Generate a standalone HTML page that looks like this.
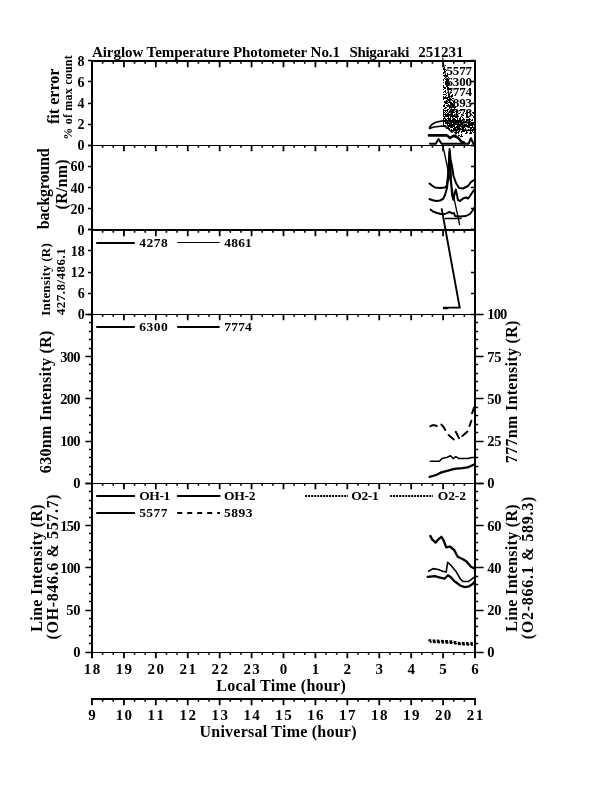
<!DOCTYPE html>
<html><head><meta charset="utf-8"><title>Airglow Temperature Photometer</title>
<style>html,body{margin:0;padding:0;background:#fff;}body{width:612px;height:792px;overflow:hidden;}svg{display:block;will-change:transform;}text{font-family:"Liberation Serif",serif;font-weight:bold;fill:#000;}.ax{stroke:#000;stroke-width:2;fill:none;stroke-linecap:butt;}.tk{stroke:#000;stroke-width:1.8;fill:none;}.tm{stroke:#000;stroke-width:1.6;fill:none;}.yk{stroke:#000;stroke-width:1.4;fill:none;}.d{stroke:#000;fill:none;stroke-linejoin:round;stroke-linecap:round;}</style></head><body>
<svg width="612" height="792" viewBox="0 0 612 792">
<rect x="0" y="0" width="612" height="792" fill="#fff"/>
<path class="ax" d="M92.0 60.0V658.0M475.0 60.0V658.0"/>
<path d="M91.0 61.0H476.0" stroke="#000" stroke-width="2" fill="none"/>
<path d="M91.0 145.5H476.0" stroke="#000" stroke-width="1" fill="none"/>
<path d="M91.0 230.0H476.0" stroke="#000" stroke-width="2" fill="none"/>
<path d="M91.0 314.5H476.0" stroke="#000" stroke-width="1" fill="none"/>
<path d="M91.0 483.5H476.0" stroke="#000" stroke-width="1" fill="none"/>
<path d="M91.0 652.5H476.0" stroke="#000" stroke-width="1" fill="none"/>
<path class="ax" d="M91.0 699.0H476.0"/>
<path class="tk" d="M92.00 62.0v5.2M123.92 62.0v5.2M155.83 62.0v5.2M187.75 62.0v5.2M219.67 62.0v5.2M251.58 62.0v5.2M283.50 62.0v5.2M315.42 62.0v5.2M347.33 62.0v5.2M379.25 62.0v5.2M411.17 62.0v5.2M443.08 62.0v5.2M475.00 62.0v5.2M92.00 146.0v5.2M123.92 146.0v5.2M155.83 146.0v5.2M187.75 146.0v5.2M219.67 146.0v5.2M251.58 146.0v5.2M283.50 146.0v5.2M315.42 146.0v5.2M347.33 146.0v5.2M379.25 146.0v5.2M411.17 146.0v5.2M443.08 146.0v5.2M475.00 146.0v5.2M92.00 231.0v5.2M123.92 231.0v5.2M155.83 231.0v5.2M187.75 231.0v5.2M219.67 231.0v5.2M251.58 231.0v5.2M283.50 231.0v5.2M315.42 231.0v5.2M347.33 231.0v5.2M379.25 231.0v5.2M411.17 231.0v5.2M443.08 231.0v5.2M475.00 231.0v5.2M92.00 315.0v5.2M123.92 315.0v5.2M155.83 315.0v5.2M187.75 315.0v5.2M219.67 315.0v5.2M251.58 315.0v5.2M283.50 315.0v5.2M315.42 315.0v5.2M347.33 315.0v5.2M379.25 315.0v5.2M411.17 315.0v5.2M443.08 315.0v5.2M475.00 315.0v5.2M92.00 484.0v5.2M123.92 484.0v5.2M155.83 484.0v5.2M187.75 484.0v5.2M219.67 484.0v5.2M251.58 484.0v5.2M283.50 484.0v5.2M315.42 484.0v5.2M347.33 484.0v5.2M379.25 484.0v5.2M411.17 484.0v5.2M443.08 484.0v5.2M475.00 484.0v5.2M92.00 653.0v5.2M123.92 653.0v5.2M155.83 653.0v5.2M187.75 653.0v5.2M219.67 653.0v5.2M251.58 653.0v5.2M283.50 653.0v5.2M315.42 653.0v5.2M347.33 653.0v5.2M379.25 653.0v5.2M411.17 653.0v5.2M443.08 653.0v5.2M475.00 653.0v5.2M92.00 700.0v5.2M123.92 700.0v5.2M155.83 700.0v5.2M187.75 700.0v5.2M219.67 700.0v5.2M251.58 700.0v5.2M283.50 700.0v5.2M315.42 700.0v5.2M347.33 700.0v5.2M379.25 700.0v5.2M411.17 700.0v5.2M443.08 700.0v5.2M475.00 700.0v5.2"/>
<path class="tm" d="M102.64 62.0v1.8M113.28 62.0v1.8M134.56 62.0v1.8M145.19 62.0v1.8M166.47 62.0v1.8M177.11 62.0v1.8M198.39 62.0v1.8M209.03 62.0v1.8M230.31 62.0v1.8M240.94 62.0v1.8M262.22 62.0v1.8M272.86 62.0v1.8M294.14 62.0v1.8M304.78 62.0v1.8M326.06 62.0v1.8M336.69 62.0v1.8M357.97 62.0v1.8M368.61 62.0v1.8M389.89 62.0v1.8M400.53 62.0v1.8M421.81 62.0v1.8M432.44 62.0v1.8M453.72 62.0v1.8M464.36 62.0v1.8M102.64 146.0v1.8M113.28 146.0v1.8M134.56 146.0v1.8M145.19 146.0v1.8M166.47 146.0v1.8M177.11 146.0v1.8M198.39 146.0v1.8M209.03 146.0v1.8M230.31 146.0v1.8M240.94 146.0v1.8M262.22 146.0v1.8M272.86 146.0v1.8M294.14 146.0v1.8M304.78 146.0v1.8M326.06 146.0v1.8M336.69 146.0v1.8M357.97 146.0v1.8M368.61 146.0v1.8M389.89 146.0v1.8M400.53 146.0v1.8M421.81 146.0v1.8M432.44 146.0v1.8M453.72 146.0v1.8M464.36 146.0v1.8M102.64 231.0v1.8M113.28 231.0v1.8M134.56 231.0v1.8M145.19 231.0v1.8M166.47 231.0v1.8M177.11 231.0v1.8M198.39 231.0v1.8M209.03 231.0v1.8M230.31 231.0v1.8M240.94 231.0v1.8M262.22 231.0v1.8M272.86 231.0v1.8M294.14 231.0v1.8M304.78 231.0v1.8M326.06 231.0v1.8M336.69 231.0v1.8M357.97 231.0v1.8M368.61 231.0v1.8M389.89 231.0v1.8M400.53 231.0v1.8M421.81 231.0v1.8M432.44 231.0v1.8M453.72 231.0v1.8M464.36 231.0v1.8M102.64 315.0v1.8M113.28 315.0v1.8M134.56 315.0v1.8M145.19 315.0v1.8M166.47 315.0v1.8M177.11 315.0v1.8M198.39 315.0v1.8M209.03 315.0v1.8M230.31 315.0v1.8M240.94 315.0v1.8M262.22 315.0v1.8M272.86 315.0v1.8M294.14 315.0v1.8M304.78 315.0v1.8M326.06 315.0v1.8M336.69 315.0v1.8M357.97 315.0v1.8M368.61 315.0v1.8M389.89 315.0v1.8M400.53 315.0v1.8M421.81 315.0v1.8M432.44 315.0v1.8M453.72 315.0v1.8M464.36 315.0v1.8M102.64 484.0v1.8M113.28 484.0v1.8M134.56 484.0v1.8M145.19 484.0v1.8M166.47 484.0v1.8M177.11 484.0v1.8M198.39 484.0v1.8M209.03 484.0v1.8M230.31 484.0v1.8M240.94 484.0v1.8M262.22 484.0v1.8M272.86 484.0v1.8M294.14 484.0v1.8M304.78 484.0v1.8M326.06 484.0v1.8M336.69 484.0v1.8M357.97 484.0v1.8M368.61 484.0v1.8M389.89 484.0v1.8M400.53 484.0v1.8M421.81 484.0v1.8M432.44 484.0v1.8M453.72 484.0v1.8M464.36 484.0v1.8M102.64 653.0v1.8M113.28 653.0v1.8M134.56 653.0v1.8M145.19 653.0v1.8M166.47 653.0v1.8M177.11 653.0v1.8M198.39 653.0v1.8M209.03 653.0v1.8M230.31 653.0v1.8M240.94 653.0v1.8M262.22 653.0v1.8M272.86 653.0v1.8M294.14 653.0v1.8M304.78 653.0v1.8M326.06 653.0v1.8M336.69 653.0v1.8M357.97 653.0v1.8M368.61 653.0v1.8M389.89 653.0v1.8M400.53 653.0v1.8M421.81 653.0v1.8M432.44 653.0v1.8M453.72 653.0v1.8M464.36 653.0v1.8M102.64 700.0v1.8M113.28 700.0v1.8M134.56 700.0v1.8M145.19 700.0v1.8M166.47 700.0v1.8M177.11 700.0v1.8M198.39 700.0v1.8M209.03 700.0v1.8M230.31 700.0v1.8M240.94 700.0v1.8M262.22 700.0v1.8M272.86 700.0v1.8M294.14 700.0v1.8M304.78 700.0v1.8M326.06 700.0v1.8M336.69 700.0v1.8M357.97 700.0v1.8M368.61 700.0v1.8M389.89 700.0v1.8M400.53 700.0v1.8M421.81 700.0v1.8M432.44 700.0v1.8M453.72 700.0v1.8M464.36 700.0v1.8"/>
<path class="yk" d="M92.0 145.5h-4M92.0 124.5h-4M92.0 103.5h-4M92.0 81.5h-4M92.0 60.5h-4"/>
<text x="84.4" y="150.2" font-size="14" text-anchor="end">0</text>
<text x="84.4" y="129.1" font-size="14" text-anchor="end">2</text>
<text x="84.4" y="108.0" font-size="14" text-anchor="end">4</text>
<text x="84.4" y="86.9" font-size="14" text-anchor="end">6</text>
<text x="84.4" y="65.7" font-size="14" text-anchor="end">8</text>
<path class="yk" d="M92.0 229.5h-4M92.0 208.5h-4M92.0 187.5h-4M92.0 166.5h-4M92.0 145.5h-4"/>
<text x="84.4" y="234.7" font-size="14" text-anchor="end">0</text>
<text x="84.4" y="213.6" font-size="14" text-anchor="end">20</text>
<text x="84.4" y="192.5" font-size="14" text-anchor="end">40</text>
<text x="84.4" y="171.4" font-size="14" text-anchor="end">60</text>
<path class="yk" d="M92.0 314.5h-4M92.0 293.5h-4M92.0 272.5h-4M92.0 250.5h-4M92.0 229.5h-4"/>
<text x="84.7" y="319.2" font-size="14" text-anchor="end">0</text>
<text x="84.7" y="298.1" font-size="14" text-anchor="end">6</text>
<text x="84.7" y="277.0" font-size="14" text-anchor="end">12</text>
<text x="84.7" y="255.9" font-size="14" text-anchor="end">18</text>
<path class="yk" d="M92.0 483.5h-6.6M92.0 441.5h-6.6M92.0 398.5h-6.6M92.0 356.5h-6.6M92.0 314.5h-6.6"/>
<path class="yk" d="M92.0 474.5h-3M92.0 466.5h-3M92.0 457.5h-3M92.0 449.5h-3M92.0 432.5h-3M92.0 424.5h-3M92.0 415.5h-3M92.0 407.5h-3M92.0 390.5h-3M92.0 381.5h-3M92.0 373.5h-3M92.0 364.5h-3M92.0 348.5h-3M92.0 339.5h-3M92.0 331.5h-3M92.0 322.5h-3"/>
<text x="80.4" y="488.4" font-size="14.5" text-anchor="end">0</text>
<text x="79.6" y="446.2" font-size="14.5" text-anchor="end" letter-spacing="-0.8">100</text>
<text x="79.6" y="403.9" font-size="14.5" text-anchor="end" letter-spacing="-0.8">200</text>
<text x="79.6" y="361.7" font-size="14.5" text-anchor="end" letter-spacing="-0.8">300</text>
<path class="yk" d="M92.0 652.5h-6.6M92.0 610.5h-6.6M92.0 567.5h-6.6M92.0 525.5h-6.6M92.0 483.5h-6.6"/>
<path class="yk" d="M92.0 643.5h-3M92.0 635.5h-3M92.0 626.5h-3M92.0 618.5h-3M92.0 601.5h-3M92.0 593.5h-3M92.0 584.5h-3M92.0 576.5h-3M92.0 559.5h-3M92.0 550.5h-3M92.0 542.5h-3M92.0 533.5h-3M92.0 517.5h-3M92.0 508.5h-3M92.0 500.5h-3M92.0 491.5h-3"/>
<text x="80.4" y="657.4" font-size="14.5" text-anchor="end">0</text>
<text x="80.1" y="615.2" font-size="14.5" text-anchor="end" letter-spacing="-0.3">50</text>
<text x="79.6" y="572.9" font-size="14.5" text-anchor="end" letter-spacing="-0.8">100</text>
<text x="79.6" y="530.7" font-size="14.5" text-anchor="end" letter-spacing="-0.8">150</text>
<path class="yk" d="M475.0 145.5h-4M475.0 124.5h-4M475.0 103.5h-4M475.0 81.5h-4M475.0 60.5h-4"/>
<path class="yk" d="M475.0 229.5h-4M475.0 208.5h-4M475.0 187.5h-4M475.0 166.5h-4M475.0 145.5h-4"/>
<path class="yk" d="M475.0 314.5h-4M475.0 293.5h-4M475.0 272.5h-4M475.0 250.5h-4M475.0 229.5h-4"/>
<path class="yk" d="M475.0 483.5h8.6M475.0 441.5h8.6M475.0 398.5h8.6M475.0 356.5h8.6M475.0 314.5h8.6"/>
<path class="yk" d="M475.0 474.5h3.2M475.0 466.5h3.2M475.0 457.5h3.2M475.0 449.5h3.2M475.0 432.5h3.2M475.0 424.5h3.2M475.0 415.5h3.2M475.0 407.5h3.2M475.0 390.5h3.2M475.0 381.5h3.2M475.0 373.5h3.2M475.0 364.5h3.2M475.0 348.5h3.2M475.0 339.5h3.2M475.0 331.5h3.2M475.0 322.5h3.2"/>
<text x="487.2" y="488.4" font-size="14.5">0</text>
<text x="487.2" y="446.2" font-size="14.5" letter-spacing="-0.3">25</text>
<text x="487.2" y="403.9" font-size="14.5" letter-spacing="-0.3">50</text>
<text x="487.2" y="361.7" font-size="14.5" letter-spacing="-0.3">75</text>
<text x="487.2" y="319.4" font-size="14.5" letter-spacing="-0.8">100</text>
<path class="yk" d="M475.0 652.5h8.6M475.0 610.5h8.6M475.0 567.5h8.6M475.0 525.5h8.6M475.0 483.5h8.6"/>
<path class="yk" d="M475.0 643.5h3.2M475.0 635.5h3.2M475.0 626.5h3.2M475.0 618.5h3.2M475.0 601.5h3.2M475.0 593.5h3.2M475.0 584.5h3.2M475.0 576.5h3.2M475.0 559.5h3.2M475.0 550.5h3.2M475.0 542.5h3.2M475.0 533.5h3.2M475.0 517.5h3.2M475.0 508.5h3.2M475.0 500.5h3.2M475.0 491.5h3.2"/>
<text x="487.2" y="657.4" font-size="14.5">0</text>
<text x="487.2" y="615.2" font-size="14.5" letter-spacing="-0.3">20</text>
<text x="487.2" y="572.9" font-size="14.5" letter-spacing="-0.3">40</text>
<text x="487.2" y="530.7" font-size="14.5" letter-spacing="-0.3">60</text>
<text x="83.8" y="674.2" font-size="15" textLength="16.4" lengthAdjust="spacing">18</text>
<text x="115.7" y="674.2" font-size="15" textLength="16.4" lengthAdjust="spacing">19</text>
<text x="147.6" y="674.2" font-size="15" textLength="16.4" lengthAdjust="spacing">20</text>
<text x="179.6" y="674.2" font-size="15" textLength="16.4" lengthAdjust="spacing">21</text>
<text x="211.5" y="674.2" font-size="15" textLength="16.4" lengthAdjust="spacing">22</text>
<text x="243.4" y="674.2" font-size="15" textLength="16.4" lengthAdjust="spacing">23</text>
<text x="283.5" y="674.2" font-size="15" text-anchor="middle">0</text>
<text x="315.4" y="674.2" font-size="15" text-anchor="middle">1</text>
<text x="347.3" y="674.2" font-size="15" text-anchor="middle">2</text>
<text x="379.2" y="674.2" font-size="15" text-anchor="middle">3</text>
<text x="411.2" y="674.2" font-size="15" text-anchor="middle">4</text>
<text x="443.1" y="674.2" font-size="15" text-anchor="middle">5</text>
<text x="475.0" y="674.2" font-size="15" text-anchor="middle">6</text>
<text x="92.0" y="719.6" font-size="15" text-anchor="middle">9</text>
<text x="115.7" y="719.6" font-size="15" textLength="16.4" lengthAdjust="spacing">10</text>
<text x="147.6" y="719.6" font-size="15" textLength="16.4" lengthAdjust="spacing">11</text>
<text x="179.6" y="719.6" font-size="15" textLength="16.4" lengthAdjust="spacing">12</text>
<text x="211.5" y="719.6" font-size="15" textLength="16.4" lengthAdjust="spacing">13</text>
<text x="243.4" y="719.6" font-size="15" textLength="16.4" lengthAdjust="spacing">14</text>
<text x="275.3" y="719.6" font-size="15" textLength="16.4" lengthAdjust="spacing">15</text>
<text x="307.2" y="719.6" font-size="15" textLength="16.4" lengthAdjust="spacing">16</text>
<text x="339.1" y="719.6" font-size="15" textLength="16.4" lengthAdjust="spacing">17</text>
<text x="371.1" y="719.6" font-size="15" textLength="16.4" lengthAdjust="spacing">18</text>
<text x="403.0" y="719.6" font-size="15" textLength="16.4" lengthAdjust="spacing">19</text>
<text x="434.9" y="719.6" font-size="15" textLength="16.4" lengthAdjust="spacing">20</text>
<text x="466.8" y="719.6" font-size="15" textLength="16.4" lengthAdjust="spacing">21</text>
<text x="216.3" y="691" font-size="16" textLength="129.5" lengthAdjust="spacing">Local Time (hour)</text>
<text x="199.5" y="736.8" font-size="16" textLength="157" lengthAdjust="spacing">Universal Time (hour)</text>
<text x="92" y="56.8" font-size="15" textLength="248" lengthAdjust="spacing">Airglow Temperature Photometer No.1</text>
<text x="349.4" y="56.8" font-size="15" textLength="60" lengthAdjust="spacing">Shigaraki</text>
<text x="418.2" y="56.8" font-size="15" textLength="45.3" lengthAdjust="spacing">251231</text>
<text transform="translate(59.3 96.3) rotate(-90)" font-size="16" text-anchor="middle" textLength="55.5" lengthAdjust="spacing">fit error</text>
<text transform="translate(72 97.5) rotate(-90)" font-size="12" text-anchor="middle" textLength="84.5" lengthAdjust="spacing">% of max count</text>
<text transform="translate(48.8 188.8) rotate(-90)" font-size="16" text-anchor="middle" textLength="81" lengthAdjust="spacing">background</text>
<text transform="translate(67 184.4) rotate(-90)" font-size="16" text-anchor="middle" textLength="50" lengthAdjust="spacing">(R/nm)</text>
<text transform="translate(50.2 279.5) rotate(-90)" font-size="13" text-anchor="middle" textLength="72.5" lengthAdjust="spacing">Intensity (R)</text>
<text transform="translate(64.8 281.8) rotate(-90)" font-size="13" text-anchor="middle" textLength="67" lengthAdjust="spacing">427.8/486.1</text>
<text transform="translate(50.5 401.9) rotate(-90)" font-size="16" text-anchor="middle" textLength="142.5" lengthAdjust="spacing">630nm Intensity (R)</text>
<text transform="translate(517 391.9) rotate(-90)" font-size="16" text-anchor="middle" textLength="142.5" lengthAdjust="spacing">777nm Intensity (R)</text>
<text transform="translate(41.5 568) rotate(-90)" font-size="16" text-anchor="middle" textLength="127.3" lengthAdjust="spacing">Line Intensity (R)</text>
<text transform="translate(57.8 566.9) rotate(-90)" font-size="16" text-anchor="middle" textLength="145" lengthAdjust="spacing">(OH-846.6 &amp; 557.7)</text>
<text transform="translate(516.6 568) rotate(-90)" font-size="16" text-anchor="middle" textLength="127.3" lengthAdjust="spacing">Line Intensity (R)</text>
<text transform="translate(533.3 568) rotate(-90)" font-size="16" text-anchor="middle" textLength="142.5" lengthAdjust="spacing">(O2-866.1 &amp; 589.3)</text>
<path d="M96.2 243H134.8" stroke="#000" stroke-width="2.0" fill="none"/>
<text x="139.2" y="247" font-size="13.5" textLength="28.5" lengthAdjust="spacing">4278</text>
<path d="M177.2 242.5H219.6" stroke="#000" stroke-width="1.0" fill="none"/>
<text x="224.3" y="247" font-size="13.5" textLength="27.5" lengthAdjust="spacing">4861</text>
<path d="M96.2 327H134.8" stroke="#000" stroke-width="2.0" fill="none"/>
<text x="139.2" y="331.3" font-size="13.5" textLength="28.5" lengthAdjust="spacing">6300</text>
<path d="M177.2 327H219.6" stroke="#000" stroke-width="2.0" fill="none"/>
<text x="224.3" y="331.3" font-size="13.5" textLength="27.5" lengthAdjust="spacing">7774</text>
<path d="M96.2 496H135" stroke="#000" stroke-width="2.0" fill="none"/>
<text x="139.2" y="500" font-size="13.5" textLength="31" lengthAdjust="spacing">OH-1</text>
<path d="M177 496H220.4" stroke="#000" stroke-width="2.0" fill="none"/>
<text x="224" y="500" font-size="13.5" textLength="31.5" lengthAdjust="spacing">OH-2</text>
<path d="M305.2 496H348" stroke="#000" stroke-width="2.0" fill="none" stroke-dasharray="2 1"/>
<text x="351.2" y="500" font-size="13.5" textLength="27.6" lengthAdjust="spacing">O2-1</text>
<path d="M390.2 496H433" stroke="#000" stroke-width="2.0" fill="none" stroke-dasharray="2 1"/>
<text x="437.7" y="500" font-size="13.5" textLength="28.3" lengthAdjust="spacing">O2-2</text>
<path d="M96.2 513H135" stroke="#000" stroke-width="2.0" fill="none"/>
<text x="139.2" y="517" font-size="13.5" textLength="28.2" lengthAdjust="spacing">5577</text>
<path d="M177.2 513H220" stroke="#000" stroke-width="2.0" fill="none" stroke-dasharray="5 5"/>
<text x="224" y="517" font-size="13.5" textLength="28.5" lengthAdjust="spacing">5893</text>
<path class="d" d="M430.3 535.9L432.1 539.4L435.6 542.6L438.3 539.4L441.4 536.8L443.6 540.3L446.2 547.4L449.8 546.5L454.2 550.0L457.7 556.7L463.0 559.2L466.5 561.5L471.0 566.8L474.5 568.6" stroke-width="2.3"/>
<path class="d" d="M428.6 571.2L433.0 568.6L438.3 569.5L442.7 571.2L446.2 572.1L447.6 562.4L450.6 565.0L455.9 571.2L460.4 579.2L463.0 581.5L468.3 581.5L471.8 579.2L474.5 576.9" stroke-width="1.6"/>
<path class="d" d="M427.7 576.9L434.7 576.2L439.2 577.4L444.5 578.7L448.0 575.3L450.6 576.9L454.2 581.0L460.4 585.7L464.8 587.1L469.2 586.3L472.7 584.0L474.5 581.8" stroke-width="2.3"/>
<path d="M428.4 640.3L452 641.4L459 643L473 643.4" stroke="#000" stroke-width="2.2" fill="none" stroke-dasharray="2.8 1.4"/>
<path d="M430 641.9L452 643L459 644.3L473 644.8" stroke="#000" stroke-width="2" fill="none" stroke-dasharray="2.8 1.4" stroke-dashoffset="1.2"/>
<path class="d" d="M430.3 426.3L432.5 425.2L434.5 425.2L436.8 426.0" stroke-width="2.0"/>
<path class="d" d="M441.4 424.6L443.6 427.0L445.3 429.9" stroke-width="2.0"/>
<path class="d" d="M448.6 435.1L453.8 439.4" stroke-width="2.0"/>
<path class="d" d="M455.8 431.8L459.0 438.1" stroke-width="2.0"/>
<path class="d" d="M462.3 436.0L467.5 431.6" stroke-width="2.0"/>
<path class="d" d="M469.5 426.0L471.4 420.7" stroke-width="2.0"/>
<path class="d" d="M472.1 413.3L474.0 407.6" stroke-width="2.0"/>
<path class="d" d="M430.3 461.2L439.4 461.2L442.0 458.6L447.3 457.3L450.5 455.8L453.1 458.6L455.8 456.7L459.0 458.6L467.5 458.6L472.1 457.6L474.0 457.6" stroke-width="1.5"/>
<path class="d" d="M429.6 476.9L436.1 475.0L441.4 472.4L447.9 470.7L454.4 468.8L462.3 468.2L467.5 467.4L471.4 465.8L474.0 464.5" stroke-width="2.3"/>
<path class="d" d="M441.6 208.4L459.7 307.6L443.0 307.6" stroke-width="1.9" style="stroke-linejoin:miter;stroke-linecap:butt"/>
<path d="M443 308.2H448.5" stroke="#000" stroke-width="2" fill="none"/>
<path class="d" d="M442.7 145.0L459.6 224.5" stroke-width="1.3"/>
<path class="d" d="M445.2 218.6L461.0 218.6" stroke-width="1.5"/>
<path class="d" d="M429.5 183.5L432.0 185.5L435.0 187.5L440.0 188.0L445.0 187.5L447.0 185.0L448.0 175.0L449.0 160.0L449.6 149.0L450.6 160.0L452.0 166.0L453.5 176.0L456.0 183.0L459.0 188.0L463.0 188.5L468.0 186.0L471.0 182.0L474.0 180.0" stroke-width="2.0"/>
<path class="d" d="M429.5 199.0L432.0 200.0L436.0 201.0L440.0 200.5L443.0 199.0L445.0 195.0L447.0 188.0L448.5 175.0L449.6 152.0L450.5 165.0L451.0 180.0L452.0 195.0L453.5 200.0L454.5 194.0L455.8 189.5L457.0 195.0L458.0 200.0L460.0 201.0L463.0 198.5L466.0 197.5L468.0 198.5L470.0 196.0L472.0 193.0L474.0 190.0" stroke-width="2.0"/>
<path class="d" d="M430.5 209.5L433.0 211.5L437.0 213.0L441.0 214.0L445.0 214.0L448.0 212.5L450.0 212.0L452.0 213.5L454.0 213.0L455.0 216.0L460.0 216.5L466.0 216.0L470.0 214.0L473.0 210.0L474.0 208.0" stroke-width="1.9"/>
<text x="446.5" y="75.2" font-size="13" textLength="25.5" lengthAdjust="spacing">5577</text>
<text x="446.5" y="85.8" font-size="13" textLength="25.5" lengthAdjust="spacing">6300</text>
<text x="446.5" y="96.3" font-size="13" textLength="25.5" lengthAdjust="spacing">7774</text>
<text x="446.5" y="106.9" font-size="13" textLength="25.5" lengthAdjust="spacing">5893</text>
<text x="446.5" y="117.4" font-size="13" textLength="25.5" lengthAdjust="spacing">4278</text>
<text x="446.5" y="128.0" font-size="13" textLength="25.5" lengthAdjust="spacing">4861</text>
<path class="d" d="M442.6 58.0L445.2 73.0L456.0 136.0" stroke-width="1.0"/>
<path fill="#000" d="M445 65h1v1h-1zM444 67h1v1h-1zM443 68h1v1h-1zM443 69h3v1h-3zM444 70h1v1h-1zM446 70h1v1h-1zM444 71h2v1h-2zM443 72h2v1h-2zM443 73h1v1h-1zM447 73h1v1h-1zM447 74h1v1h-1zM443 75h5v1h-5zM444 76h1v1h-1zM446 76h2v1h-2zM445 77h1v1h-1zM448 77h1v1h-1zM444 78h1v1h-1zM447 78h1v1h-1zM443 79h1v1h-1zM445 79h3v1h-3zM443 80h1v1h-1zM447 80h2v1h-2zM445 81h1v1h-1zM443 82h1v1h-1zM445 82h2v1h-2zM449 82h1v1h-1zM445 83h5v1h-5zM445 84h2v1h-2zM449 84h1v1h-1zM443 85h1v1h-1zM446 85h3v1h-3zM443 86h1v1h-1zM446 86h1v1h-1zM443 87h3v1h-3zM447 87h2v1h-2zM444 88h2v1h-2zM447 88h4v1h-4zM443 89h1v1h-1zM447 89h4v1h-4zM445 90h1v1h-1zM451 90h1v1h-1zM444 91h2v1h-2zM448 91h1v1h-1zM443 92h1v1h-1zM445 92h1v1h-1zM447 92h1v1h-1zM451 92h1v1h-1zM446 93h1v1h-1zM443 94h3v1h-3zM448 94h1v1h-1zM452 94h1v1h-1zM446 95h1v1h-1zM451 95h2v1h-2zM443 96h1v1h-1zM445 96h1v1h-1zM448 96h5v1h-5zM443 97h6v1h-6zM451 97h1v1h-1zM443 98h5v1h-5zM449 98h2v1h-2zM452 98h2v1h-2zM443 99h1v1h-1zM447 99h1v1h-1zM450 99h2v1h-2zM446 100h1v1h-1zM448 100h2v1h-2zM452 100h1v1h-1zM444 101h4v1h-4zM449 101h1v1h-1zM453 101h1v1h-1zM444 102h3v1h-3zM448 102h4v1h-4zM453 102h2v1h-2zM445 103h3v1h-3zM450 103h3v1h-3zM454 103h1v1h-1zM444 104h1v1h-1zM448 104h1v1h-1zM450 104h5v1h-5zM443 105h2v1h-2zM446 105h4v1h-4zM452 105h2v1h-2zM443 106h2v1h-2zM447 106h1v1h-1zM449 106h2v1h-2zM452 106h2v1h-2zM455 106h1v1h-1zM445 107h2v1h-2zM449 107h7v1h-7zM444 108h2v1h-2zM449 108h1v1h-1zM454 108h1v1h-1zM443 109h1v1h-1zM447 109h2v1h-2zM450 109h4v1h-4zM455 109h1v1h-1zM443 110h5v1h-5zM450 110h5v1h-5zM456 110h1v1h-1zM443 111h1v1h-1zM445 111h1v1h-1zM447 111h1v1h-1zM449 111h5v1h-5zM455 111h2v1h-2zM443 112h2v1h-2zM446 112h1v1h-1zM449 112h1v1h-1zM451 112h4v1h-4zM456 112h1v1h-1zM443 113h1v1h-1zM445 113h1v1h-1zM447 113h2v1h-2zM451 113h2v1h-2zM456 113h1v1h-1zM443 114h8v1h-8zM454 114h1v1h-1zM456 114h2v1h-2zM443 115h1v1h-1zM445 115h5v1h-5zM451 115h1v1h-1zM453 115h2v1h-2zM456 115h2v1h-2zM443 116h6v1h-6zM450 116h8v1h-8zM444 117h1v1h-1zM448 117h1v1h-1zM450 117h1v1h-1zM452 117h1v1h-1zM455 117h3v1h-3zM443 118h3v1h-3zM447 118h4v1h-4zM453 118h2v1h-2zM457 118h1v1h-1zM443 119h1v1h-1zM445 119h2v1h-2zM448 119h3v1h-3zM452 119h4v1h-4zM457 119h1v1h-1zM443 120h10v1h-10zM454 120h5v1h-5zM443 121h3v1h-3zM447 121h1v1h-1zM449 121h7v1h-7zM458 121h1v1h-1zM443 122h1v1h-1zM445 122h4v1h-4zM451 122h8v1h-8zM443 123h1v1h-1zM445 123h7v1h-7zM453 123h1v1h-1zM455 123h1v1h-1zM457 123h2v1h-2zM443 124h1v1h-1zM447 124h1v1h-1zM449 124h5v1h-5zM455 124h2v1h-2zM458 124h2v1h-2zM443 125h3v1h-3zM448 125h7v1h-7zM457 125h3v1h-3zM445 126h1v1h-1zM448 126h2v1h-2zM451 126h3v1h-3zM456 126h1v1h-1zM458 126h2v1h-2zM447 127h2v1h-2zM450 127h3v1h-3zM454 127h6v1h-6zM447 128h3v1h-3zM453 128h3v1h-3zM457 128h4v1h-4zM451 129h1v1h-1zM453 129h1v1h-1zM456 129h1v1h-1zM458 129h3v1h-3zM450 130h8v1h-8zM459 130h1v1h-1zM456 131h1v1h-1zM458 131h2v1h-2zM461 131h1v1h-1zM454 132h5v1h-5zM461 132h1v1h-1zM456 133h1v1h-1zM458 133h1v1h-1zM461 134h1v1h-1zM458 135h2v1h-2zM461 135h1v1h-1zM460 136h3v1h-3z"/>
<path fill="#000" d="M459 110h1v1h-1zM461 110h1v1h-1zM464 110h1v1h-1zM467 110h1v1h-1zM457 111h1v1h-1zM464 111h1v1h-1zM469 111h1v1h-1zM460 112h1v1h-1zM463 112h1v1h-1zM466 112h1v1h-1zM468 112h1v1h-1zM472 112h2v1h-2zM458 113h2v1h-2zM465 113h1v1h-1zM467 113h1v1h-1zM470 113h1v1h-1zM473 113h1v1h-1zM461 114h1v1h-1zM466 114h1v1h-1zM471 114h1v1h-1zM463 115h1v1h-1zM467 115h1v1h-1zM470 115h1v1h-1zM472 115h1v1h-1zM458 116h1v1h-1zM466 116h1v1h-1zM473 116h1v1h-1zM460 117h1v1h-1zM462 117h1v1h-1zM466 117h3v1h-3zM473 117h1v1h-1zM459 118h2v1h-2zM463 118h1v1h-1zM469 118h1v1h-1zM459 119h2v1h-2zM462 119h1v1h-1zM464 119h1v1h-1zM466 119h3v1h-3zM472 119h1v1h-1zM462 120h1v1h-1zM469 120h1v1h-1zM472 120h1v1h-1zM460 121h1v1h-1zM465 121h1v1h-1zM469 121h1v1h-1zM459 122h1v1h-1zM464 122h2v1h-2zM467 122h2v1h-2zM472 122h1v1h-1zM460 123h1v1h-1zM462 123h1v1h-1zM468 123h3v1h-3zM472 123h2v1h-2zM460 124h2v1h-2zM470 124h2v1h-2zM473 124h1v1h-1zM462 125h2v1h-2zM465 125h2v1h-2zM469 125h4v1h-4zM467 126h3v1h-3zM472 126h1v1h-1zM462 127h2v1h-2zM468 127h1v1h-1zM470 127h2v1h-2zM473 127h1v1h-1zM463 128h1v1h-1zM465 128h1v1h-1zM471 128h1v1h-1zM473 128h1v1h-1zM461 129h1v1h-1zM465 129h1v1h-1zM468 129h1v1h-1zM470 129h1v1h-1zM472 129h2v1h-2zM462 130h4v1h-4zM472 130h1v1h-1zM462 131h3v1h-3zM466 131h1v1h-1zM470 131h1v1h-1zM472 131h1v1h-1zM466 132h2v1h-2zM470 132h2v1h-2zM473 132h1v1h-1zM465 133h2v1h-2zM469 133h3v1h-3z"/>
<path fill="#000" d="M459 119h1v1h-1zM463 119h1v1h-1zM468 119h3v1h-3zM472 119h1v1h-1zM459 120h3v1h-3zM466 120h2v1h-2zM469 120h1v1h-1zM471 120h2v1h-2zM459 121h1v1h-1zM463 121h1v1h-1zM465 121h2v1h-2zM468 121h1v1h-1zM470 121h1v1h-1zM462 122h1v1h-1zM465 122h1v1h-1zM468 122h2v1h-2zM471 122h1v1h-1zM473 122h1v1h-1zM460 123h2v1h-2zM468 123h1v1h-1zM472 123h2v1h-2zM460 124h1v1h-1zM462 124h1v1h-1zM464 124h3v1h-3zM469 124h1v1h-1zM460 125h1v1h-1zM466 125h2v1h-2zM469 125h2v1h-2zM461 126h7v1h-7zM472 126h1v1h-1zM463 127h2v1h-2zM472 127h1v1h-1zM446 128h1v1h-1zM462 128h1v1h-1zM465 128h1v1h-1zM470 128h2v1h-2z"/>
<path class="d" d="M429.5 127.4L432.2 124.3L435.8 122.3L441.2 121.1L446.6 120.7L455.0 121.5L465.0 122.5L474.0 123.5" stroke-width="1.6"/>
<path class="d" d="M429.5 128.5L434.0 127.0L443.0 126.0L446.6 127.0L450.2 130.5L452.0 132.3L454.6 129.6L461.0 129.2L466.3 130.5L474.0 130.0" stroke-width="1.5"/>
<path class="d" d="M429.0 135.4L447.0 135.4L450.2 138.0L453.8 135.7L458.2 137.7L461.0 141.3L464.5 143.0" stroke-width="2.6"/>
<path class="d" d="M430.0 143.8L435.8 143.8L438.5 139.1L441.6 143.8L468.6 143.8L470.8 138.2L473.5 143.8" stroke-width="2.0"/>
</svg></body></html>
